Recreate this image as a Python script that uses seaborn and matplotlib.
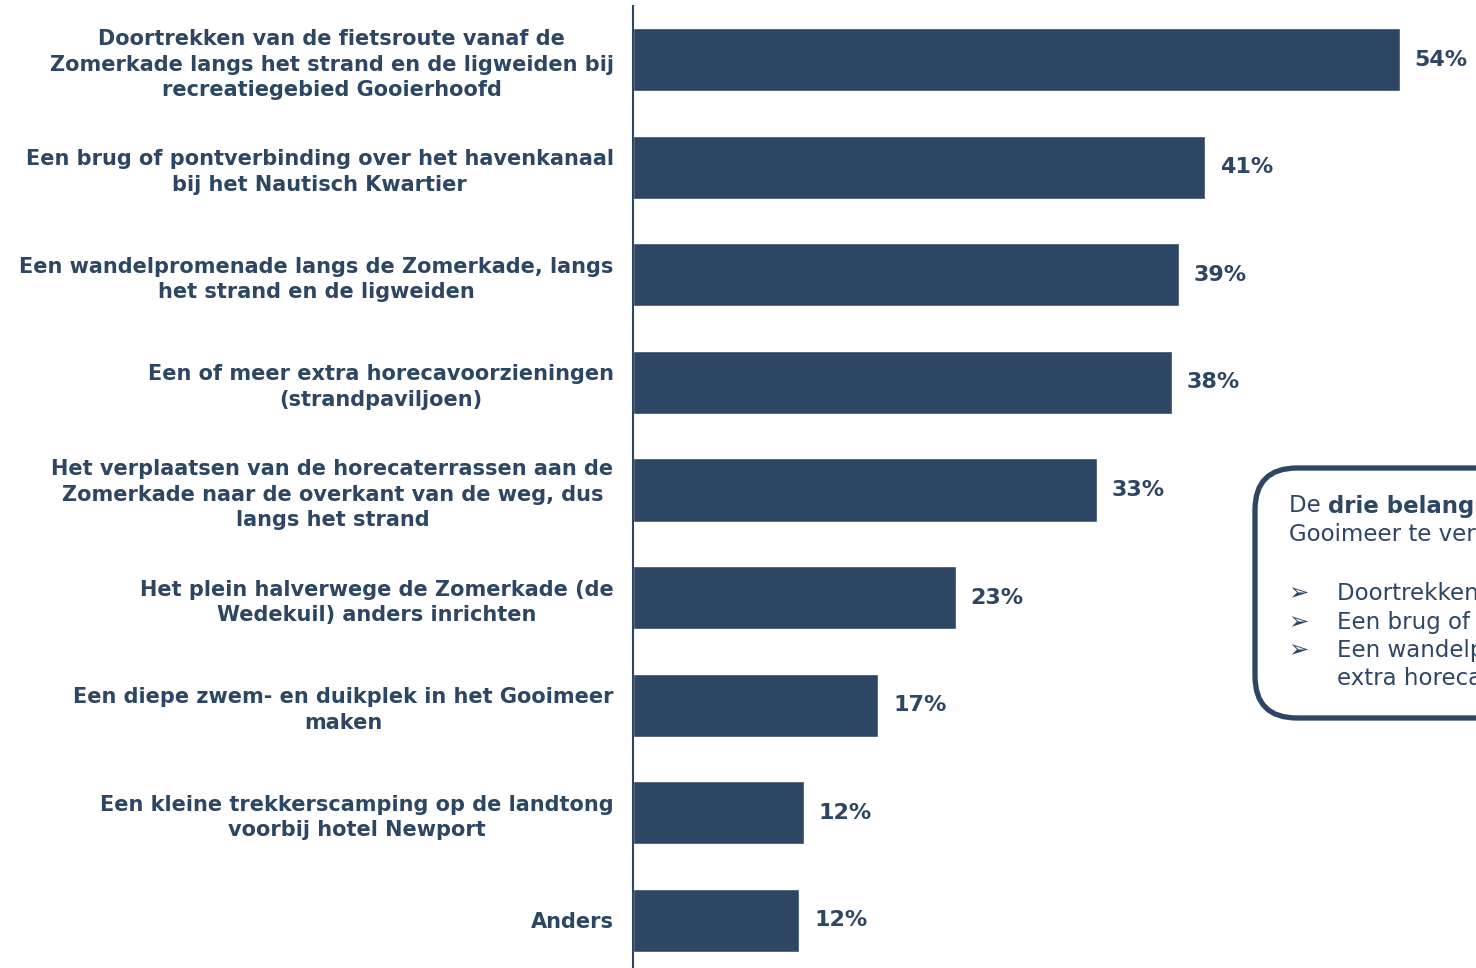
import matplotlib
matplotlib.use("Agg")
import matplotlib.pyplot as plt
import seaborn as sns
import pandas as pd
from matplotlib.patches import FancyBboxPatch

# Data
categories = [
    "Doortrekken van de fietsroute vanaf de\nZomerkade langs het strand en de ligweiden bij\nrecreatiegebied Gooierhoofd",
    "Een brug of pontverbinding over het havenkanaal\nbij het Nautisch Kwartier",
    "Een wandelpromenade langs de Zomerkade, langs\nhet strand en de ligweiden",
    "Een of meer extra horecavoorzieningen\n(strandpaviljoen)",
    "Het verplaatsen van de horecaterrassen aan de\nZomerkade naar de overkant van de weg, dus\nlangs het strand",
    "Het plein halverwege de Zomerkade (de\nWedekuil) anders inrichten",
    "Een diepe zwem- en duikplek in het Gooimeer\nmaken",
    "Een kleine trekkerscamping op de landtong\nvoorbij hotel Newport",
    "Anders",
]
percentages = [54.4, 40.6, 38.7, 38.2, 32.9, 22.9, 17.4, 12.1, 11.8]

box_intro = ["De ", "drie belangrijkste", " aspecten om het"]
box_line2 = "Gooimeer te verbeteren zijn:"
box_bullets = [
    "Doortrekken van de fietsroute",
    "Een brug of pontverbinding",
    "Een wandelpromenade en een of meer",
    "extra horecavoorzieningen",
]

navy = "#2D4663"

sns.set_style("white")
plt.rcParams["font.family"] = ["DejaVu Sans"]

df = pd.DataFrame({"categorie": categories, "pct": percentages})

fig = plt.figure(figsize=(14.76, 9.68), dpi=100)
ax = fig.add_axes([633 / 1476, -6 / 968, 843 / 1476, 968 / 968])

sns.barplot(data=df, x="pct", y="categorie", color=navy, saturation=1,
            width=0.586, ax=ax)

ax.set_xlim(0, 59.8)
ax.set_ylim(8.5, -0.5)
ax.set_xlabel("")
ax.set_ylabel("")
ax.set_xticks([])
for side in ["top", "right", "bottom"]:
    ax.spines[side].set_visible(False)
ax.spines["left"].set_color(navy)
ax.spines["left"].set_linewidth(1.5)

ax.tick_params(axis="y", length=0, pad=14)
for lbl in ax.get_yticklabels():
    lbl.set_fontsize(15)
    lbl.set_fontweight("bold")
    lbl.set_color(navy)
    lbl.set_multialignment("center")
    lbl.set_linespacing(1.35)

for i, v in enumerate(percentages):
    ax.text(v + 1.05, i, f"{v:.0f}%", va="center", ha="left",
            fontsize=16, fontweight="bold", color=navy)

# Callout box (runs off the right edge, as in the original slide)
box = FancyBboxPatch((12.55, 2.5), 4.0, 2.5,
                     boxstyle="round,pad=0,rounding_size=0.42",
                     transform=fig.dpi_scale_trans, fill=False,
                     edgecolor=navy, linewidth=3.8, clip_on=False)
fig.patches.append(box)

fs = 16.5
t = fig.text(1289 / 1476, 1 - 506 / 968, box_intro[0], fontsize=fs,
             color=navy, va="center", ha="left")
fig.canvas.draw()
r = fig.canvas.get_renderer()
x_px = t.get_window_extent(r).x1
t2 = fig.text(x_px / 1476, 1 - 506 / 968, box_intro[1], fontsize=fs,
              color=navy, va="center", ha="left", fontweight="bold")
x_px = t2.get_window_extent(r).x1
fig.text(x_px / 1476, 1 - 506 / 968, box_intro[2], fontsize=fs,
         color=navy, va="center", ha="left")
fig.text(1289 / 1476, 1 - 535 / 968, box_line2, fontsize=fs,
         color=navy, va="center", ha="left")

bullet_y = [593, 622, 650, 679]
for j, (txt, y) in enumerate(zip(box_bullets, bullet_y)):
    if j < 3:
        fig.text(1288 / 1476, 1 - y / 968, "\u27a2", fontsize=fs + 1,
                 color=navy, va="center", ha="left")
    fig.text(1337 / 1476, 1 - y / 968, txt, fontsize=fs,
             color=navy, va="center", ha="left")

fig.savefig("out.png", dpi=100)
